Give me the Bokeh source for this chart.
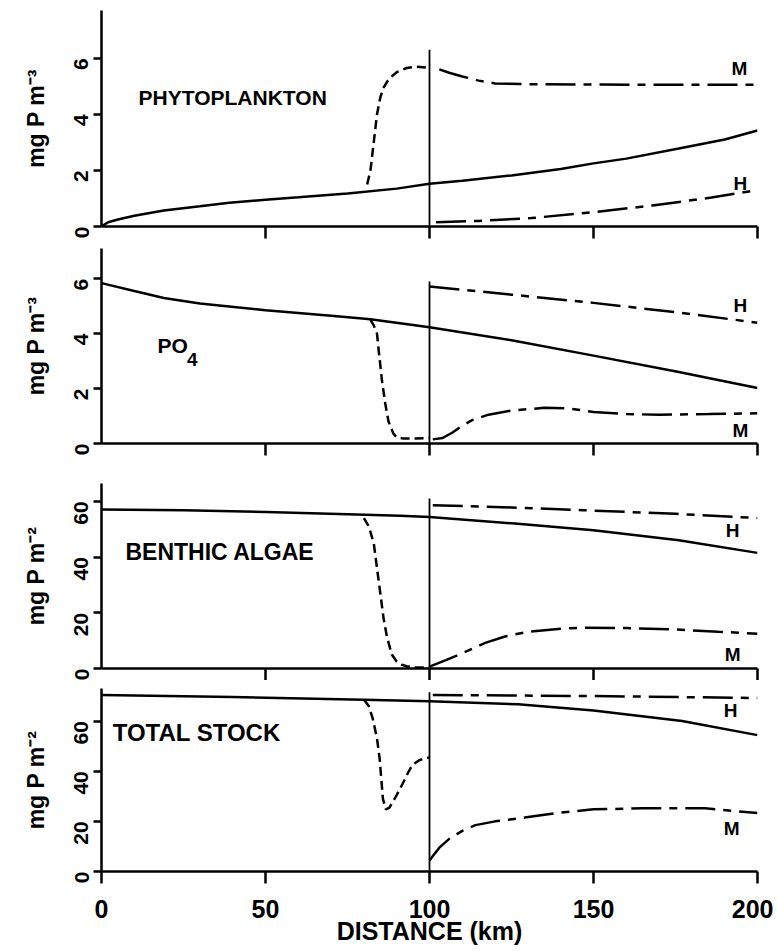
import math
from bokeh.plotting import figure
from bokeh.layouts import column
from bokeh.models import Range1d, Label, FixedTicker
from bokeh.embed import file_html
from bokeh.resources import INLINE

FONT = "Liberation Sans"

# ---------------- data ----------------
# Panel 1: phytoplankton (mg P m-3)
phyto_base_x = [0, 2, 5, 10, 19, 30, 39, 50, 60, 75, 90, 100, 110, 125, 140, 150, 160, 176, 190, 200]
phyto_base_y = [0, 0.15, 0.25, 0.38, 0.57, 0.72, 0.85, 0.95, 1.04, 1.18, 1.35, 1.52, 1.63, 1.82, 2.05, 2.25, 2.42, 2.78, 3.1, 3.42]
phyto_dash_x = [81, 82, 83, 84, 85, 86, 87, 88, 90, 93, 96, 100]
phyto_dash_y = [1.5, 2.0, 3.0, 4.0, 4.6, 4.95, 5.15, 5.3, 5.5, 5.65, 5.7, 5.65]
phyto_M_x = [103, 106, 110, 115, 120, 130, 150, 175, 200]
phyto_M_y = [5.6, 5.48, 5.35, 5.2, 5.1, 5.07, 5.06, 5.05, 5.05]
phyto_H_x = [102, 115, 131, 149, 168, 186, 200]
phyto_H_y = [0.15, 0.2, 0.3, 0.5, 0.75, 1.03, 1.3]

# Panel 2: PO4 (mg P m-3)
po4_base_x = [0, 10, 19, 30, 50, 70, 82, 91, 100, 125, 150, 176, 200]
po4_base_y = [5.84, 5.55, 5.3, 5.1, 4.85, 4.65, 4.52, 4.38, 4.23, 3.76, 3.2, 2.6, 2.02]
po4_dash_x = [82, 83, 84, 84.5, 85.5, 86.5, 87.5, 89, 90, 92, 95, 100]
po4_dash_y = [4.5, 4.3, 4.0, 3.4, 2.3, 1.46, 0.8, 0.36, 0.22, 0.18, 0.18, 0.2]
po4_M_x = [101, 104, 107, 110, 113, 118, 125, 135, 142, 150, 160, 170, 185, 200]
po4_M_y = [0.15, 0.2, 0.4, 0.65, 0.85, 1.05, 1.2, 1.3, 1.28, 1.15, 1.07, 1.05, 1.07, 1.1]
po4_H_x = [100, 125, 150, 175, 200]
po4_H_y = [5.72, 5.42, 5.12, 4.78, 4.4]

# Panel 3: benthic algae (mg P m-2)
benth_base_x = [0, 25, 50, 75, 91, 100, 126, 150, 176, 200]
benth_base_y = [57.1, 56.8, 56.2, 55.4, 54.8, 54.4, 52, 49.6, 46, 41.5]
benth_dash_x = [80, 81.5, 83, 84, 85, 86, 87, 88.5, 90, 91.5, 93, 95, 100]
benth_dash_y = [54, 51, 45, 36, 27, 18, 11.5, 5, 2.5, 1.4, 0.8, 0.4, 0.4]
benth_M_x = [100, 105, 110, 117, 123, 130, 140, 147, 160, 175, 188, 200]
benth_M_y = [0.7, 3, 5.5, 9.2, 11.5, 13.2, 14.3, 14.6, 14.5, 14, 13.2, 12.5]
benth_H_x = [101, 125, 147, 175, 200]
benth_H_y = [58.6, 57.8, 56.8, 55.5, 54]

# Panel 4: total stock (mg P m-2)
total_base_x = [0, 40, 80, 100, 127, 150, 177, 200]
total_base_y = [70.4, 69.6, 68.5, 67.9, 66.7, 64.2, 60, 54.4]
total_dash_x = [80, 81.5, 82.7, 84, 84.8, 85.8, 86.7, 87.8, 88.8, 90, 91.8, 93.5, 94.8, 97, 100]
total_dash_y = [68.5, 66, 61, 53, 45, 29, 24.8, 25.5, 27.8, 30.5, 35, 39.5, 42.6, 44.5, 45.5]
total_M_x = [100, 101.5, 103, 106, 110, 114, 120, 129, 140, 150, 165, 184, 200]
total_M_y = [4.4, 7, 9.5, 13, 16.2, 18.5, 20, 21.5, 23.5, 24.8, 25.2, 25.2, 23.3]
total_H_x = [101, 150, 200]
total_H_y = [70.4, 70, 69.2]

divider_x = 100
divider_top = [6.3, 5.9, 61, 71.5]

y_ticks_conc = [0, 2, 4, 6]
y_ticks_area = [0, 20, 40, 60]
x_ticks_inner = [50, 100, 150, 200]
x_ticks_bottom = [0, 50, 100, 150, 200]

W, L, R = 773, 101, 16

panels = [
    dict(name="PHYTOPLANKTON", ylabel="mg P m\u207b\u00b3", ymax=7.7, yticks=y_ticks_conc,
         base=(phyto_base_x, phyto_base_y), dash=(phyto_dash_x, phyto_dash_y),
         M=(phyto_M_x, phyto_M_y), H=(phyto_H_x, phyto_H_y),
         Hgt=240, T=10, B=14, name_size="21px",
         name_pos=(11.3, 4.6), M_pos=(194.5, 5.63), H_pos=(194.8, 1.52), last=False),
    dict(name="PO", ylabel="mg P m\u207b\u00b3", ymax=7.1, yticks=y_ticks_conc,
         base=(po4_base_x, po4_base_y), dash=(po4_dash_x, po4_dash_y),
         M=(po4_M_x, po4_M_y), H=(po4_H_x, po4_H_y),
         Hgt=225, T=8, B=22, name_size="21px",
         name_pos=(17.1, 3.56), M_pos=(194.8, 0.47), H_pos=(194.8, 5.04), last=False),
    dict(name="BENTHIC ALGAE", ylabel="mg P m\u207b\u00b2", ymax=66.4, yticks=y_ticks_area,
         base=(benth_base_x, benth_base_y), dash=(benth_dash_x, benth_dash_y),
         M=(benth_M_x, benth_M_y), H=(benth_H_x, benth_H_y),
         Hgt=215, T=18, B=11, name_size="23px",
         name_pos=(7.3, 41.8), M_pos=(192.4, 5), H_pos=(192.4, 49.6), last=False),
    dict(name="TOTAL STOCK", ylabel="mg P m\u207b\u00b2", ymax=73, yticks=y_ticks_area,
         base=(total_base_x, total_base_y), dash=(total_dash_x, total_dash_y),
         M=(total_M_x, total_M_y), H=(total_H_x, total_H_y),
         Hgt=267, T=8, B=62, name_size="24px",
         name_pos=(3.4, 55.5), M_pos=(192.1, 17), H_pos=(191.8, 64.4), last=True),
]

figs = []
for i, c in enumerate(panels):
    p = figure(width=W, height=c["Hgt"], x_range=Range1d(0, 200), y_range=Range1d(0, c["ymax"]),
               output_backend="svg", toolbar_location=None,
               min_border_left=L, min_border_right=R,
               min_border_top=c["T"], min_border_bottom=c["B"])
    p.outline_line_color = None
    p.xgrid.visible = False
    p.ygrid.visible = False
    p.background_fill_color = "white"
    p.border_fill_color = "white"

    # y axis
    ya = p.yaxis[0]
    ya.ticker = FixedTicker(ticks=c["yticks"])
    ya.minor_tick_line_color = None
    ya.axis_line_width = 2.5
    ya.major_tick_line_width = 2.5
    ya.major_tick_out = 8
    ya.major_tick_in = 0
    ya.major_label_orientation = math.pi / 2
    ya.major_label_text_font = FONT
    ya.major_label_text_font_style = "bold"
    ya.major_label_text_font_size = "21px"
    ya.major_label_text_color = "black"
    ya.major_label_standoff = 12
    ya.axis_label = c["ylabel"]
    ya.axis_label_text_font = FONT
    ya.axis_label_text_font_style = "bold"
    ya.axis_label_text_font_size = "23px"
    ya.axis_label_text_color = "black"
    ya.axis_label_standoff = 16

    # x axis
    xa = p.xaxis[0]
    xa.minor_tick_line_color = None
    xa.axis_line_width = 2.5
    xa.major_tick_line_width = 2.5
    xa.major_tick_out = 12
    xa.major_tick_in = 0
    if c["last"]:
        xa.ticker = FixedTicker(ticks=x_ticks_bottom)
        xa.major_label_text_font = FONT
        xa.major_label_text_font_style = "bold"
        xa.major_label_text_font_size = "25px"
        xa.major_label_text_color = "black"
        xa.major_label_standoff = 16
        xa.axis_label = "DISTANCE (km)"
        xa.axis_label_text_font = FONT
        xa.axis_label_text_font_style = "bold"
        xa.axis_label_text_font_size = "25px"
        xa.axis_label_text_color = "black"
        xa.axis_label_standoff = -4
    else:
        xa.ticker = FixedTicker(ticks=x_ticks_inner)
        xa.major_label_text_color = None
        xa.major_label_text_font_size = "1px"
        xa.major_label_standoff = 0

    bx, by = c["base"]
    p.line(bx, by, line_color="black", line_width=2.5)
    dx, dy = c["dash"]
    p.line(dx, dy, line_color="black", line_width=2.5, line_dash="9 5")
    mx, my = c["M"]
    p.line(mx, my, line_color="black", line_width=2.5, line_dash="30 8 8 8")
    hx, hy = c["H"]
    p.line(hx, hy, line_color="black", line_width=2.5, line_dash="30 8 8 8")
    p.segment(x0=[divider_x], y0=[0], x1=[divider_x], y1=[divider_top[i]],
              line_color="black", line_width=1.8)

    p.add_layout(Label(x=c["name_pos"][0], y=c["name_pos"][1], text=c["name"],
                       text_font=FONT, text_font_style="bold", text_font_size=c["name_size"],
                       text_baseline="middle", text_align="left", text_color="black"))
    if c["name"] == "PO":
        p.add_layout(Label(x=27.7, y=3.05, text="4", text_font=FONT, text_font_style="bold",
                           text_font_size="19px", text_baseline="middle", text_align="center",
                           text_color="black"))
    for lab, pos in (("M", c["M_pos"]), ("H", c["H_pos"])):
        p.add_layout(Label(x=pos[0], y=pos[1], text=lab, text_font=FONT, text_font_style="bold",
                           text_font_size="19px", text_baseline="middle", text_align="center",
                           text_color="black"))
    figs.append(p)

layout = column(*figs, spacing=0)
open("out.html", "w").write(file_html(layout, INLINE))
